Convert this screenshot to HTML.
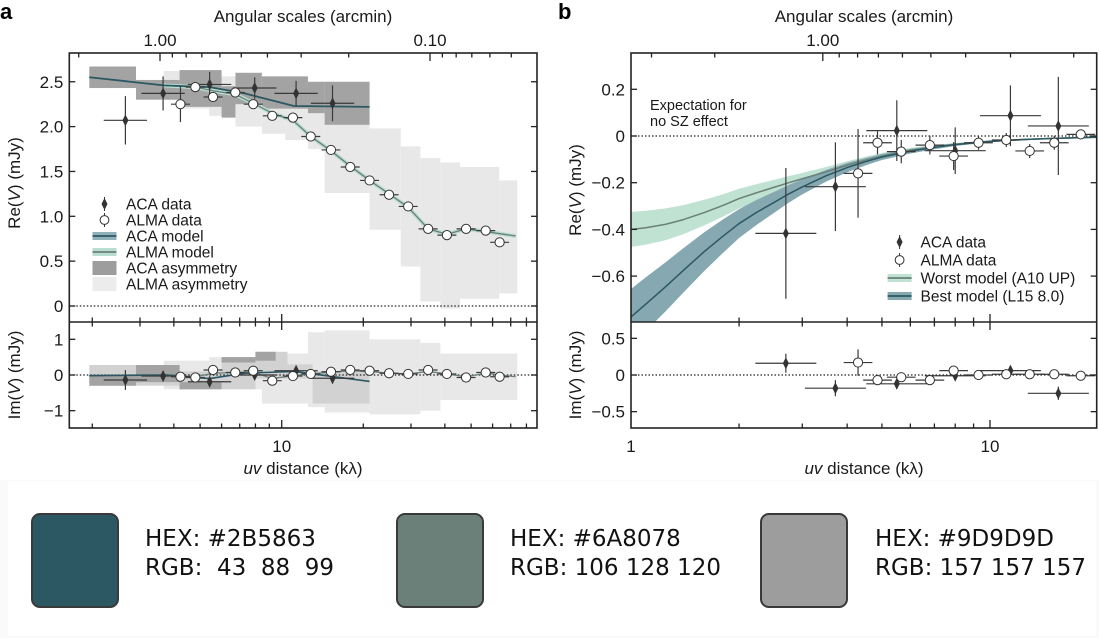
<!DOCTYPE html>
<html><head><meta charset="utf-8">
<style>
html,body{margin:0;padding:0;background:#fff;}
body{width:1099px;height:640px;overflow:hidden;position:relative;font-family:"Liberation Sans",sans-serif;}
svg{position:absolute;left:0;top:0;}
.sw{position:absolute;width:84px;height:91px;border:2px solid #3a3a3a;border-radius:9px;top:513px;}
.tx{position:absolute;font-family:"Comic Sans MS","DejaVu Sans",sans-serif;font-size:23px;color:#111;}
</style></head>
<body>
<svg id="chart" width="1099" height="640" viewBox="0 0 1099 640">
<rect x="0" y="480" width="1099" height="158" fill="#fafafa"/>
<rect x="8" y="481" width="1088" height="155" fill="#fff"/>
<defs>
<clipPath id="cLT"><rect x="69.3" y="53" width="467.7" height="269"/></clipPath>
<clipPath id="cLB"><rect x="69.3" y="322" width="467.7" height="106"/></clipPath>
<clipPath id="cRT"><rect x="631" y="53" width="465.7" height="269"/></clipPath>
<clipPath id="cRB"><rect x="631" y="322" width="465.7" height="106"/></clipPath>
</defs>
<g id="g"></g>
</svg>
<div class="sw" style="left:31px;background:#2B5863"></div>
<div class="tx" style="left:145px;top:526px">HEX: #2B5863</div>
<div class="tx" style="left:145px;top:555px">RGB:&nbsp; 43&nbsp; 88&nbsp; 99</div>
<div class="sw" style="left:396px;background:#6A8078"></div>
<div class="tx" style="left:510px;top:526px">HEX: #6A8078</div>
<div class="tx" style="left:510px;top:555px">RGB: 106 128 120</div>
<div class="sw" style="left:760px;background:#9D9D9D"></div>
<div class="tx" style="left:875px;top:526px">HEX: #9D9D9D</div>
<div class="tx" style="left:875px;top:555px">RGB: 157 157 157</div>
<script>
// ===== Panel a data =====
const acaUvA = [2.65, 3.65, 5.42, 7.95, 11.3, 15.4];
const acaReA = [2.07, 2.37, 2.47, 2.43, 2.37, 2.26];
const acaReErrA = [0.27, 0.19, 0.14, 0.12, 0.14, 0.2];
const acaImA = [-0.14, -0.03, -0.19, 0.0, 0.12, -0.09];
const acaImErrA = [0.28, 0.15, 0.15, 0.12, 0.12, 0.15];
const almaUvA = [4.23, 4.8, 5.58, 6.74, 7.85, 9.23, 11.0, 12.8, 15.2, 17.9, 21.1, 24.9, 29.3, 34.7, 40.7, 47.9, 56.6, 63.7];
const almaReA = [2.25, 2.44, 2.33, 2.38, 2.25, 2.12, 2.10, 1.89, 1.74, 1.55, 1.40, 1.24, 1.11, 0.86, 0.79, 0.86, 0.84, 0.71];
const almaReErrA = [0.2, 0.03, 0.03, 0.03, 0.03, 0.02, 0.02, 0.02, 0.02, 0.02, 0.02, 0.02, 0.02, 0.02, 0.02, 0.02, 0.02, 0.02];
const almaImA = [-0.05, -0.07, 0.14, 0.07, 0.12, -0.16, -0.03, 0.03, 0.09, 0.14, 0.12, 0.05, 0.03, 0.14, 0.03, -0.07, 0.07, -0.05];
const acaModelUvA = [1.95, 3.67, 5.42, 7.3, 11.1, 21.1];
const acaModelReA = [2.55, 2.46, 2.44, 2.37, 2.23, 2.22];
const acaModelImA = [-0.02, 0.0, -0.1, 0.05, 0.1, -0.18];
const almaModelUvA = [3.65, 4.8, 5.58, 6.74, 7.85, 9.23, 11.0, 12.8, 15.2, 17.9, 21.1, 24.9, 29.3, 34.7, 40.7, 47.9, 56.6, 73];
const almaModelReA = [2.46, 2.44, 2.40, 2.36, 2.26, 2.15, 2.07, 1.89, 1.73, 1.56, 1.40, 1.25, 1.10, 0.86, 0.80, 0.86, 0.83, 0.78];
const almaModelImA = [0.02, -0.05, 0.05, 0.07, 0.08, -0.1, -0.02, 0.03, 0.08, 0.12, 0.1, 0.05, 0.03, 0.1, 0.03, -0.05, 0.05, -0.05];
// asymmetry bins [uvLo, uvHi, lo, hi]
const acaAsymReA = [[1.95,2.9,2.43,2.67],[2.9,4.2,2.30,2.52],[4.2,6.0,2.22,2.63],[6.0,6.75,2.10,2.45],[6.75,8.45,2.25,2.60],[8.45,12.5,2.20,2.56],[12.5,14.4,2.15,2.50],[14.4,21.1,2.02,2.50]];
const almaAsymReA = [[3.67,4.2,2.30,2.62],[4.2,5.4,2.20,2.62],[5.4,6.75,2.12,2.56],[6.75,8.45,2.00,2.50],[8.45,10.3,1.92,2.45],[10.3,12.5,1.85,2.40],[12.5,14.4,1.75,2.30],[14.4,21.1,1.26,2.03],[21.1,27.5,0.85,1.98],[27.5,32.5,0.44,1.78],[32.5,38.5,0.05,1.65],[38.5,45.5,-0.03,1.60],[45.5,63.5,0.08,1.55],[63.5,74,0.14,1.40]];
const acaAsymImA = [[1.95,2.9,-0.3,0.0],[2.9,4.2,-0.2,0.28],[4.2,6.0,-0.4,-0.2],[6.0,8.0,0.35,0.5],[8.0,9.5,0.4,0.65]];
const acaMidAsymImA = [[1.95,4.2,-0.3,0.28],[4.2,6.0,-0.4,0.1],[6.0,8.0,-0.4,0.5],[8.0,10.5,-0.1,0.65],[10.5,13.0,-0.1,0.3],[13.0,21.1,-0.8,0.1]];
const almaAsymImA = [[3.67,5.4,-0.4,0.4],[5.4,8.45,-0.4,0.5],[8.45,12.5,-0.8,0.6],[12.5,14.4,-0.9,1.2],[14.4,21.1,-1.05,1.25],[21.1,32.5,-1.1,1.0],[32.5,38.5,-1.0,0.9],[38.5,74,-0.7,0.6]];
// ===== Panel b data =====
const acaUvB = [2.70, 3.71, 5.50, 8.0, 11.4, 15.5];
const acaReB = [-0.417, -0.217, 0.023, -0.063, 0.087, 0.043];
const acaReErrB = [0.28, 0.19, 0.13, 0.10, 0.13, 0.21];
const acaImB = [0.16, -0.18, -0.12, -0.01, 0.06, -0.25];
const acaImErrB = [0.13, 0.11, 0.07, 0.06, 0.06, 0.09];
const almaUvB = [4.29, 4.86, 5.66, 6.8, 7.92, 9.29, 11.1, 12.9, 15.1, 17.9];
const almaReB = [-0.16, -0.029, -0.067, -0.039, -0.086, -0.029, -0.017, -0.064, -0.029, 0.007];
const almaReErrB = [0.19, 0.05, 0.05, 0.04, 0.06, 0.03, 0.03, 0.03, 0.03, 0.02];
const almaImB = [0.17, -0.07, -0.03, -0.07, 0.06, 0.0, 0.01, 0.01, 0.01, -0.01];
const almaImErrB = [0.18, 0.04, 0.04, 0.03, 0.03, 0.03, 0.03, 0.02, 0.02, 0.02];
const modelUvB = [1, 1.1, 1.25, 1.4, 1.6, 1.8, 2, 2.25, 2.5, 2.75, 3, 3.5, 4, 4.5, 5, 6, 7, 8, 10, 12, 15, 20];
const worstB = [-0.40, -0.393, -0.378, -0.358, -0.328, -0.298, -0.268, -0.242, -0.22, -0.2, -0.183, -0.153, -0.125, -0.104, -0.086, -0.061, -0.046, -0.036, -0.023, -0.016, -0.01, -0.005];
const worstErrB = [0.075, 0.073, 0.068, 0.062, 0.055, 0.048, 0.042, 0.037, 0.032, 0.028, 0.025, 0.02, 0.017, 0.015, 0.013, 0.01, 0.008, 0.006, 0.004, 0.003, 0.003, 0.002];
const bestB = [-0.775, -0.72, -0.645, -0.575, -0.495, -0.43, -0.375, -0.325, -0.285, -0.248, -0.218, -0.17, -0.135, -0.11, -0.09, -0.065, -0.049, -0.037, -0.023, -0.016, -0.01, -0.005];
const bestErrB = [0.12, 0.115, 0.105, 0.095, 0.083, 0.072, 0.062, 0.053, 0.045, 0.038, 0.032, 0.025, 0.02, 0.016, 0.013, 0.01, 0.008, 0.006, 0.004, 0.003, 0.003, 0.002];
// ticks
const reTicksA = [0, 0.5, 1.0, 1.5, 2.0, 2.5];
const reTickLabelsA = ["0", "0.5", "1.0", "1.5", "2.0", "2.5"];
const imTicksA = [-1, 0, 1];
const imTickLabelsA = ["\u22121", "0", "1"];
const reTicksB = [-0.6, -0.4, -0.2, 0, 0.2];
const reTickLabelsB = ["\u22120.6", "\u22120.4", "\u22120.2", "0", "0.2"];
const imTicksB = [-0.5, 0, 0.5];
const imTickLabelsB = ["\u22120.5", "0", "0.5"];

// ===== axes =====
const L = {x0:69.3, x1:537}, R = {x0:631, x1:1096.7};
const TOP=53, MID=322, BOT=428;
const xA = u => 281.7 + (Math.log10(u) - 1) * 271;
const yReA = v => 306 - v * 89.7;
const yImA = v => 375 - v * 35.7;
const xB = u => 631 + Math.log10(u) * 359;
const yReB = v => 136 - v * 233.5;
const yImB = v => 375 - v * 73.3;
const angA = a => 160 - Math.log10(a) * 270;
const angB = a => 822.8 - Math.log10(a) * 359;

const NS = "http://www.w3.org/2000/svg";
const root = document.getElementById('g');
function mk(tag, attrs, parent, txt) {
  const e = document.createElementNS(NS, tag);
  for (const k in attrs) e.setAttribute(k, attrs[k]);
  if (txt !== undefined) e.textContent = txt;
  (parent || root).appendChild(e);
  return e;
}
function grp(name, clip) {
  const g = mk('g', clip ? {'clip-path': 'url(#' + clip + ')'} : {});
  
  
  return g;
}
function boxes(bins, xf, yf, fill, name, clip) {
  const g = grp(name, clip);
  bins.forEach(b => {
    const r = mk('rect', {x: xf(b[0]), y: yf(b[3]), width: xf(b[1]) - xf(b[0]), height: yf(b[2]) - yf(b[3]), fill: fill}, g);
    
    
  });
}
function line(us, vs, xf, yf, color, w, name, clip) {
  const g = grp(name, clip);
  const p = mk('polyline', {points: us.map((u, i) => xf(u) + ',' + yf(vs[i])).join(' '), fill: 'none', stroke: color, 'stroke-width': w, 'stroke-linejoin': 'round'}, g);
  
  
}
function band(us, vs, es, xf, yf, color, name, clip) {
  const g = grp(name, clip);
  const up = us.map((u, i) => xf(u) + ',' + yf(vs[i] + es[i]));
  const dn = us.map((u, i) => xf(u) + ',' + yf(vs[i] - es[i])).reverse();
  const p = mk('polygon', {points: up.concat(dn).join(' '), fill: color}, g);
  
  
}
function points(us, vs, errs, xdec, xf, yf, kind, name, clip) {
  const g = grp(name, clip);
  us.forEach((u, i) => {
    const cx = xf(u), cy = yf(vs[i]);
    const e = errs ? errs[i] : 0;
    const pg = mk('g', {}, g);
    
    
    mk('line', {x1: xf(u / Math.pow(10, xdec)), x2: xf(u * Math.pow(10, xdec)), y1: cy, y2: cy, stroke: '#3a3a3a', 'stroke-width': 1.2}, pg);
    if (e) mk('line', {x1: cx, x2: cx, y1: yf(vs[i] + e), y2: yf(vs[i] - e), stroke: '#3a3a3a', 'stroke-width': 1.2}, pg);
    if (kind === 'd') mk('polygon', {points: `${cx},${cy-6} ${cx+3},${cy} ${cx},${cy+6} ${cx-3},${cy}`, fill: '#333'}, pg);
    else mk('circle', {cx: cx, cy: cy, r: 4.6, fill: '#fff', stroke: '#333', 'stroke-width': 1}, pg);
  });
}
function text(x, y, s, opts, name) {
  const t = mk('text', Object.assign({x: x, y: y, 'font-size': 16, fill: '#1a1a1a'}, opts || {}), root, s);
  
  
  return t;
}

// ===== Panel a =====
boxes(almaAsymReA, xA, yReA, '#e8e8e8', 'alma-asymmetry-re', 'cLT');
boxes(acaAsymReA, xA, yReA, '#a3a3a3', 'aca-asymmetry-re', 'cLT');
boxes(almaAsymImA, xA, yImA, '#e8e8e8', 'alma-asymmetry-im', 'cLB');
boxes(acaMidAsymImA, xA, yImA, '#d2d2d2', 'aca-asymmetry-im-overlap', 'cLB');
boxes(acaAsymImA, xA, yImA, '#a3a3a3', 'aca-asymmetry-im', 'cLB');
mk('line', {x1: L.x0, x2: L.x1, y1: yReA(0), y2: yReA(0), stroke: '#222', 'stroke-width': 1.2, 'stroke-dasharray': '1.5,2'});
mk('line', {x1: L.x0, x2: L.x1, y1: yImA(0), y2: yImA(0), stroke: '#222', 'stroke-width': 1.2, 'stroke-dasharray': '1.5,2'});
line(almaModelUvA, almaModelReA, xA, yReA, '#b9ddd0', 4, 'alma-model-band-re', 'cLT');
line(almaModelUvA, almaModelReA, xA, yReA, '#6A8078', 1.3, 'alma-model-re', 'cLT');
line(acaModelUvA, acaModelReA, xA, yReA, '#2B5863', 1.8, 'aca-model-re', 'cLT');
line(almaModelUvA, almaModelImA, xA, yImA, '#6A8078', 1.3, 'alma-model-im', 'cLB');
line(acaModelUvA, acaModelImA, xA, yImA, '#2B5863', 1.6, 'aca-model-im', 'cLB');
points(acaUvA, acaReA, acaReErrA, 0.08, xA, yReA, 'd', 'aca-data-re', 'cLT');
points(almaUvA, almaReA, almaReErrA, 0.035, xA, yReA, 'o', 'alma-data-re', 'cLT');
points(acaUvA, acaImA, acaImErrA, 0.08, xA, yImA, 'd', 'aca-data-im', 'cLB');
points(almaUvA, almaImA, null, 0.035, xA, yImA, 'o', 'alma-data-im', 'cLB');

// ===== Panel b =====
band(modelUvB, worstB, worstErrB, xB, yReB, '#bfe2d3', 'worst-model', 'cRT');
band(modelUvB, bestB, bestErrB, xB, yReB, '#86a8b1', 'best-model', 'cRT');
mk('line', {x1: R.x0, x2: R.x1, y1: yReB(0), y2: yReB(0), stroke: '#222', 'stroke-width': 1.2, 'stroke-dasharray': '1.5,2'});
mk('line', {x1: R.x0, x2: R.x1, y1: yImB(0), y2: yImB(0), stroke: '#222', 'stroke-width': 1.2, 'stroke-dasharray': '1.5,2'});
line(modelUvB, worstB, xB, yReB, '#6A8078', 1.5, 'worst-model-line', 'cRT');
line(modelUvB, bestB, xB, yReB, '#2B5863', 1.5, 'best-model-line', 'cRT');
points(acaUvB, acaReB, acaReErrB, 0.085, xB, yReB, 'd', 'aca-data-re-b', 'cRT');
points(almaUvB, almaReB, almaReErrB, 0.04, xB, yReB, 'o', 'alma-data-re-b', 'cRT');
points(acaUvB, acaImB, acaImErrB, 0.085, xB, yImB, 'd', 'aca-data-im-b', 'cRB');
points(almaUvB, almaImB, almaImErrB, 0.04, xB, yImB, 'o', 'alma-data-im-b', 'cRB');

// ===== frames & ticks =====
function frame(P, name) {
  const r = mk('rect', {x: P.x0, y: TOP, width: P.x1 - P.x0, height: BOT - TOP, fill: 'none', stroke: '#222', 'stroke-width': 1.6});
  
  
  mk('line', {x1: P.x0, x2: P.x1, y1: MID, y2: MID, stroke: '#222', 'stroke-width': 1.6});
}
frame(L, 'panel-a-frame');
frame(R, 'panel-b-frame');
function yTicks(P, ticks, labels, yf, name) {
  ticks.forEach((v, i) => {
    const y = yf(v);
    mk('line', {x1: P.x0, x2: P.x0 + 6, y1: y, y2: y, stroke: '#222', 'stroke-width': 1.3});
    mk('line', {x1: P.x1, x2: P.x1 - 6, y1: y, y2: y, stroke: '#222', 'stroke-width': 1.3});
    text(P.x0 - 6, y + 6, labels[i], {'text-anchor': 'end', 'font-size': 17}, name + '-label');
  });
}
yTicks(L, reTicksA, reTickLabelsA, yReA, 'y-tick-re-a');
yTicks(L, imTicksA, imTickLabelsA, yImA, 'y-tick-im-a');
yTicks(R, reTicksB, reTickLabelsB, yReB, 'y-tick-re-b');
yTicks(R, imTicksB, imTickLabelsB, yImB, 'y-tick-im-b');
function xTicks(xf, lo, hi) {
  for (let d = 0; d <= 2; d++) for (let m = 1; m <= 9; m++) {
    const u = m * Math.pow(10, d);
    if (u < lo || u > hi) continue;
    const x = xf(u), len = m === 1 ? 8 : 4.5;
    mk('line', {x1: x, x2: x, y1: BOT, y2: BOT - len, stroke: '#222', 'stroke-width': 1.3});
    mk('line', {x1: x, x2: x, y1: MID - len, y2: MID + len, stroke: '#222', 'stroke-width': 1.3});
  }
}
xTicks(xA, 1.7, 85);
xTicks(xB, 1.01, 19.5);
function angTicks(af, lo, hi) {
  for (let d = -2; d <= 0; d++) for (let m = 1; m <= 9; m++) {
    const a = m * Math.pow(10, d);
    if (a < lo || a > hi) continue;
    const x = af(a), len = m === 1 ? 8 : 4.5;
    mk('line', {x1: x, x2: x, y1: TOP, y2: TOP + len, stroke: '#222', 'stroke-width': 1.3});
  }
}
angTicks(angA, 0.041, 2.1);
angTicks(angB, 0.18, 3.3);
text(xA(10), 452, '10', {'text-anchor': 'middle', 'font-size': 17}, 'x-tick-label-10-a');
text(xB(1), 452, '1', {'text-anchor': 'middle', 'font-size': 17}, 'x-tick-label-1-b');
text(xB(10), 452, '10', {'text-anchor': 'middle', 'font-size': 17}, 'x-tick-label-10-b');
text(angA(1), 46, '1.00', {'text-anchor': 'middle', 'font-size': 17}, 'top-tick-label-1');
text(angA(0.1), 46, '0.10', {'text-anchor': 'middle', 'font-size': 17}, 'top-tick-label-01');
text(angB(1), 46, '1.00', {'text-anchor': 'middle', 'font-size': 17}, 'top-tick-label-1-b');
function uvTitle(cx, name) {
  const t = text(cx, 474, '', {'text-anchor': 'middle', 'font-size': 17}, name);
  mk('tspan', {'font-style': 'italic'}, t, 'uv');
  mk('tspan', {}, t, ' distance (k\u03bb)');
}
uvTitle(303, 'x-axis-title-a');
uvTitle(864, 'x-axis-title-b');
text(303, 22, 'Angular scales (arcmin)', {'text-anchor': 'middle', 'font-size': 17}, 'top-axis-title-a');
text(864, 22, 'Angular scales (arcmin)', {'text-anchor': 'middle', 'font-size': 17}, 'top-axis-title-b');
function yTitle(x, y, pre, name) {
  const t = text(0, 0, '', {'text-anchor': 'middle', 'font-size': 17, transform: `translate(${x},${y}) rotate(-90)`}, name);
  mk('tspan', {}, t, pre + '(');
  mk('tspan', {'font-style': 'italic'}, t, 'V');
  mk('tspan', {}, t, ') (mJy)');
}
yTitle(20, 183, 'Re', 'y-axis-title-re-a');
yTitle(20, 375, 'Im', 'y-axis-title-im-a');
yTitle(581, 190, 'Re', 'y-axis-title-re-b');
yTitle(581, 375, 'Im', 'y-axis-title-im-b');
text(0, 19, 'a', {'font-size': 22, 'font-weight': 'bold', fill: '#000'}, 'panel-label-a');
text(558, 19, 'b', {'font-size': 22, 'font-weight': 'bold', fill: '#000'}, 'panel-label-b');
text(650, 110, 'Expectation for', {'font-size': 14.5}, 'annotation-line-1');
text(650, 126, 'no SZ effect', {'font-size': 14.5}, 'annotation-line-2');

// ===== legends =====
function legend(x, tx, ys, items, name) {
  items.forEach((it, i) => {
    const y = ys[i];
    const g = grp(name + '-entry', null);
    if (it.k === 'd') {
      mk('line', {x1: x, x2: x, y1: y - 7, y2: y + 7, stroke: '#333', 'stroke-width': 1}, g);
      mk('polygon', {points: `${x},${y-6} ${x+3},${y} ${x},${y+6} ${x-3},${y}`, fill: '#333'}, g);
    } else if (it.k === 'o') {
      mk('line', {x1: x, x2: x, y1: y - 7, y2: y + 7, stroke: '#333', 'stroke-width': 1}, g);
      mk('circle', {cx: x, cy: y, r: 4.4, fill: '#fff', stroke: '#333'}, g);
    } else if (it.k === 'l') {
      mk('rect', {x: x - 12, y: y - 4, width: 24, height: 8, fill: it.band}, g);
      mk('line', {x1: x - 12, x2: x + 12, y1: y, y2: y, stroke: it.c, 'stroke-width': 1.8}, g);
    } else {
      mk('rect', {x: x - 12, y: y - 7, width: 24, height: 14, fill: it.c}, g);
    }
    mk('text', {x: tx, y: y + 5.5, 'font-size': 15.5, fill: '#1a1a1a'}, g, it.t);
  });
}
legend(104.5, 126, [204, 220, 236, 252, 268, 284], [
  {k: 'd', t: 'ACA data'}, {k: 'o', t: 'ALMA data'},
  {k: 'l', t: 'ACA model', c: '#2B5863', band: '#8fb0b8'},
  {k: 'l', t: 'ALMA model', c: '#6A8078', band: '#b9ddd0'},
  {k: 'r', t: 'ACA asymmetry', c: '#9d9d9d'},
  {k: 'r', t: 'ALMA asymmetry', c: '#ececec'}
], 'legend-a');
legend(899.6, 920.5, [242, 260, 278, 296], [
  {k: 'd', t: 'ACA data'}, {k: 'o', t: 'ALMA data'},
  {k: 'l', t: 'Worst model (A10 UP)', c: '#6A8078', band: '#bfe2d3'},
  {k: 'l', t: 'Best model (L15 8.0)', c: '#2B5863', band: '#86a8b1'}
], 'legend-b');
</script>
</body></html>
